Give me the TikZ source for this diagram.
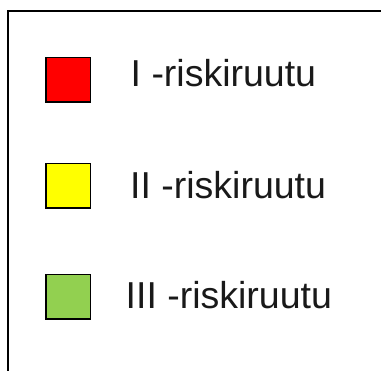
\documentclass[tikz,border=0pt]{standalone}
\usepackage{fontspec}
\setmainfont{Liberation Sans}
\definecolor{riskred}{RGB}{255,0,0}
\definecolor{riskyellow}{RGB}{255,255,0}
\definecolor{riskgreen}{RGB}{146,208,80}
\begin{document}
\begin{tikzpicture}[x=1pt,y=-1pt,
  swatch/.style={draw=black,line width=1.5pt,minimum size=44.5pt,inner sep=0pt},
  lbl/.style={anchor=base west,inner sep=0pt,font=\fontsize{37.5}{45}\selectfont,text=black!90}]
\useasboundingbox (0,0) rectangle (381,371);
\draw[line width=2pt] (7.5,372) -- (7.5,11.3) -- (382,11.3);
\node[swatch,fill=riskred] (s1) at (68,80) {};
\node[swatch,fill=riskyellow] (s2) at (68,186) {};
\node[swatch,fill=riskgreen] (s3) at (68,297) {};
\node[lbl] (t1) at (130.5,86.7) {I -riskiruutu};
\node[lbl] (t2) at (130,198.3) {II -riskiruutu};
\node[lbl] (t3) at (125.5,308.3) {III -riskiruutu};
\end{tikzpicture}
\end{document}
